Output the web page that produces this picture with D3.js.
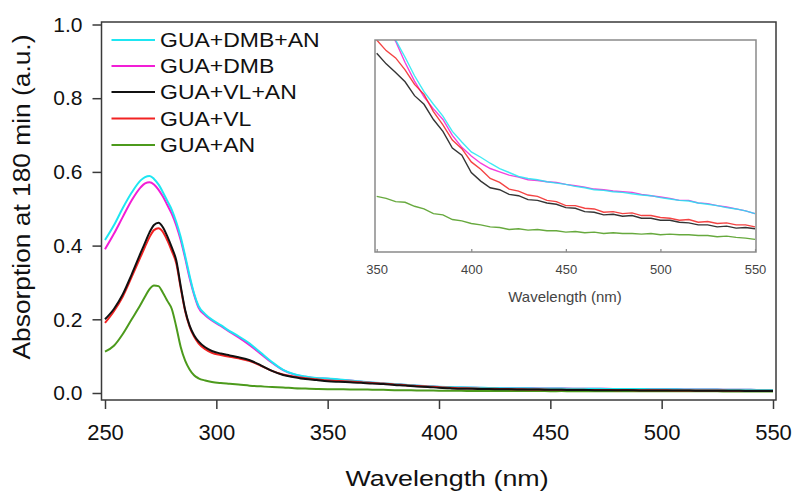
<!DOCTYPE html>
<html>
<head>
<meta charset="utf-8">
<script src="https://cdn.jsdelivr.net/npm/d3@7"></script>
<style>
  body { margin: 0; background: #fff; }
  svg { display: block; font-family: "Liberation Sans", Arial, sans-serif; }
</style>
</head>
<body>
<svg id="chart" width="795" height="496"></svg>
<script>
// Wavelengths (nm): finer steps over the peak, 5 nm steps for the tail shown in the inset
const wavelengths = [
  250, 254, 258, 262, 266, 268, 270, 272, 274, 276,
  278, 280, 282, 284, 286, 288, 290, 292, 295, 298,
  302, 306, 310, 315, 320, 325, 330, 335, 340, 345,
  350, 355, 360, 365, 370, 375, 380, 385, 390, 395,
  400, 405, 410, 415, 420, 425, 430, 435, 440, 445,
  450, 455, 460, 465, 470, 475, 480, 485, 490, 495,
  500, 505, 510, 515, 520, 525, 530, 535, 540, 545, 550
];

const seriesNames = ["GUA+DMB+AN", "GUA+DMB", "GUA+VL+AN", "GUA+VL", "GUA+AN"];
const seriesColors = ["#1ee6f2", "#f21ed6", "#111111", "#f22222", "#4c9a1c"];

// absorption values, one array per sample
const guaDmbAn = [
  0.415, 0.455, 0.502, 0.544, 0.577, 0.586, 0.589, 0.581, 0.566, 0.545,
  0.521, 0.497, 0.464, 0.423, 0.372, 0.318, 0.270, 0.236, 0.214, 0.199,
  0.184, 0.168, 0.154, 0.134, 0.109, 0.084, 0.063, 0.051, 0.045, 0.041,
  0.0396, 0.0368, 0.0340, 0.0314, 0.0286, 0.0262, 0.0243, 0.0225, 0.0202, 0.0186,
  0.0171, 0.0163, 0.0154, 0.0146, 0.0140, 0.0134, 0.0131, 0.0129, 0.0126, 0.0124,
  0.0122, 0.0119, 0.0117, 0.0114, 0.0113, 0.0111, 0.0110, 0.0108, 0.0106, 0.0105,
  0.0102, 0.0100, 0.0098, 0.0097, 0.0094, 0.0092, 0.0090, 0.0087, 0.0085, 0.0082, 0.0078
];
const guaDmb = [
  0.390, 0.432, 0.478, 0.523, 0.558, 0.569, 0.572, 0.566, 0.552, 0.533,
  0.510, 0.486, 0.455, 0.415, 0.366, 0.312, 0.267, 0.232, 0.211, 0.197,
  0.182, 0.166, 0.151, 0.130, 0.106, 0.082, 0.062, 0.050, 0.044, 0.040,
  0.0388, 0.0360, 0.0338, 0.0306, 0.0278, 0.0254, 0.0236, 0.0220, 0.0196, 0.0178,
  0.0165, 0.0154, 0.0146, 0.0141, 0.0136, 0.0133, 0.0129, 0.0128, 0.0126, 0.0125,
  0.0122, 0.0120, 0.0118, 0.0115, 0.0114, 0.0112, 0.0111, 0.0110, 0.0107, 0.0105,
  0.0103, 0.0101, 0.0098, 0.0098, 0.0094, 0.0093, 0.0090, 0.0088, 0.0085, 0.0082, 0.0078
];
const guaVlAn = [
  0.200, 0.228, 0.268, 0.322, 0.380, 0.408, 0.436, 0.456, 0.462, 0.450,
  0.425, 0.395, 0.360, 0.290, 0.225, 0.183, 0.157, 0.140, 0.124, 0.114,
  0.107, 0.102, 0.097, 0.089, 0.075, 0.060, 0.049, 0.043, 0.038, 0.035,
  0.0320, 0.0304, 0.0291, 0.0277, 0.0256, 0.0243, 0.0220, 0.0202, 0.0177, 0.0166,
  0.0140, 0.0127, 0.0117, 0.0114, 0.0107, 0.0105, 0.0099, 0.0098, 0.0094, 0.0092,
  0.0087, 0.0086, 0.0081, 0.0080, 0.0076, 0.0077, 0.0074, 0.0075, 0.0071, 0.0071,
  0.0068, 0.0068, 0.0065, 0.0064, 0.0061, 0.0061, 0.0058, 0.0059, 0.0056, 0.0057, 0.0055
];
const guaVl = [
  0.190, 0.222, 0.262, 0.315, 0.370, 0.397, 0.423, 0.442, 0.447, 0.437,
  0.414, 0.385, 0.352, 0.285, 0.222, 0.180, 0.153, 0.135, 0.119, 0.109,
  0.103, 0.098, 0.094, 0.087, 0.074, 0.060, 0.050, 0.044, 0.040, 0.037,
  0.0340, 0.0324, 0.0313, 0.0295, 0.0273, 0.0258, 0.0232, 0.0212, 0.0189, 0.0176,
  0.0156, 0.0145, 0.0131, 0.0125, 0.0115, 0.0112, 0.0106, 0.0104, 0.0098, 0.0096,
  0.0090, 0.0090, 0.0086, 0.0085, 0.0080, 0.0081, 0.0078, 0.0079, 0.0075, 0.0075,
  0.0072, 0.0071, 0.0068, 0.0069, 0.0065, 0.0066, 0.0063, 0.0064, 0.0061, 0.0061, 0.0058
];
const guaAn = [
  0.112, 0.128, 0.160, 0.200, 0.240, 0.262, 0.282, 0.292, 0.290, 0.272,
  0.250, 0.228, 0.180, 0.125, 0.088, 0.064, 0.048, 0.040, 0.034, 0.030,
  0.027, 0.025, 0.023, 0.020, 0.018, 0.016, 0.015, 0.013, 0.012, 0.011,
  0.0104, 0.0101, 0.0096, 0.0095, 0.0089, 0.0085, 0.0078, 0.0076, 0.0069, 0.0067,
  0.0063, 0.0061, 0.0058, 0.0057, 0.0054, 0.0055, 0.0053, 0.0054, 0.0052, 0.0052,
  0.0050, 0.0051, 0.0049, 0.0050, 0.0048, 0.0049, 0.0048, 0.0048, 0.0047, 0.0048,
  0.0046, 0.0047, 0.0046, 0.0046, 0.0045, 0.0045, 0.0043, 0.0044, 0.0042, 0.0041, 0.0039
];

const xTicks = [250, 300, 350, 400, 450, 500, 550];
const yTicks = [0.0, 0.2, 0.4, 0.6, 0.8, 1.0];
const insetTicks = [350, 400, 450, 500, 550];

const seriesValues = [guaDmbAn, guaDmb, guaVlAn, guaVl, guaAn];
const series = seriesNames.map((name, i) => ({
  name: name,
  color: seriesColors[i],
  points: wavelengths.map((w, j) => ({ w: w, v: seriesValues[i][j] }))
}));
// draw order: green underneath, black on top
const drawOrder = [4, 1, 0, 3, 2];

const svg = d3.select("#chart");
const axisColor = "#3a3a3a";

// main scales
const x = d3.scaleLinear().domain([250, 550]).range([105, 773]);
const y = d3.scaleLinear().domain([0, 1]).range([393, 24.5]);

// frame around the main plot
svg.append("rect")
  .attr("x", 101.5).attr("y", 22)
  .attr("width", 776 - 101.5).attr("height", 400 - 22)
  .attr("fill", "none").attr("stroke", axisColor).attr("stroke-width", 1.5);

// axes
const yAxis = svg.append("g")
  .attr("transform", "translate(101.5,0)")
  .call(d3.axisLeft(y).tickValues(yTicks).tickFormat(d3.format(".1f"))
    .tickSizeInner(9).tickSizeOuter(0).tickPadding(10));
const xAxis = svg.append("g")
  .attr("transform", "translate(0,400)")
  .call(d3.axisBottom(x).tickValues(xTicks).tickFormat(d3.format("d"))
    .tickSizeInner(9).tickSizeOuter(0).tickPadding(15));
[yAxis, xAxis].forEach(a => {
  a.select(".domain").remove();
  a.selectAll(".tick line").attr("stroke", axisColor).attr("stroke-width", 1.5);
  a.selectAll(".tick text").attr("fill", "#111").attr("font-family", null);
});
yAxis.selectAll(".tick text").attr("font-size", 21);
xAxis.selectAll(".tick text").attr("font-size", 22);

// axis titles
svg.append("text")
  .attr("transform", "translate(447,486) scale(1.22,1)")
  .attr("text-anchor", "middle").attr("font-size", 22).attr("fill", "#111")
  .text("Wavelength (nm)");
svg.append("text")
  .attr("transform", "translate(30,197) rotate(-90) scale(1.145,1)")
  .attr("text-anchor", "middle").attr("font-size", 23).attr("fill", "#111")
  .text("Absorption at 180 min (a.u.)");

// main curves
const mainLine = d3.line()
  .x(d => x(d.w)).y(d => y(d.v))
  .curve(d3.curveMonotoneX);
svg.append("g").selectAll("path")
  .data(drawOrder.map(i => series[i]))
  .join("path")
  .attr("d", d => mainLine(d.points))
  .attr("fill", "none")
  .attr("stroke", d => d.color)
  .attr("stroke-width", 2);

// legend
const legendRows = [40, 66, 92, 118.5, 145];
const legend = svg.append("g");
series.forEach((s, i) => {
  legend.append("line")
    .attr("x1", 111.5).attr("x2", 155)
    .attr("y1", legendRows[i]).attr("y2", legendRows[i])
    .attr("stroke", s.color).attr("stroke-width", 2);
  legend.append("text")
    .attr("transform", "translate(160," + legendRows[i] + ") scale(1.15,1)")
    .attr("dy", "0.36em").attr("font-size", 20).attr("fill", "#111")
    .text(s.name);
});

// inset: zoom on 350-550 nm
const ix = d3.scaleLinear().domain([350, 550]).range([376.7, 755]);
const iy = d3.scaleLinear().domain([0.002, 0.034]).range([252, 40]);

svg.append("rect")
  .attr("x", 375).attr("y", 40).attr("width", 756 - 375).attr("height", 252 - 40)
  .attr("fill", "#fff");

svg.append("clipPath").attr("id", "inset-clip")
  .append("rect")
  .attr("x", 375).attr("y", 40).attr("width", 756 - 375).attr("height", 252 - 40);

const insetLine = d3.line()
  .x(d => ix(d.w)).y(d => iy(d.v));
svg.append("g").attr("clip-path", "url(#inset-clip)")
  .selectAll("path")
  .data(drawOrder.map(i => series[i]))
  .join("path")
  .attr("d", d => insetLine(d.points.filter(p => p.w >= 350)))
  .attr("fill", "none")
  .attr("stroke", d => d.color)
  .attr("stroke-width", 1.4)
  .attr("stroke-opacity", 0.85);

svg.append("rect")
  .attr("x", 375).attr("y", 40).attr("width", 756 - 375).attr("height", 252 - 40)
  .attr("fill", "none").attr("stroke", "#8a8a8a").attr("stroke-width", 1.5);

const insetAxis = svg.append("g")
  .attr("transform", "translate(0,252)")
  .call(d3.axisBottom(ix).tickValues(insetTicks).tickFormat(d3.format("d"))
    .tickSizeInner(-3).tickSizeOuter(0).tickPadding(13));
insetAxis.select(".domain").remove();
insetAxis.selectAll(".tick line").attr("stroke", "#8a8a8a").attr("stroke-width", 1.2);
insetAxis.selectAll(".tick text")
  .attr("font-family", null).attr("font-size", 13).attr("fill", "#444");

svg.append("text")
  .attr("transform", "translate(565,301.5) scale(1.07,1)")
  .attr("text-anchor", "middle").attr("font-size", 14).attr("fill", "#444")
  .text("Wavelength (nm)");
</script>
</body>
</html>
